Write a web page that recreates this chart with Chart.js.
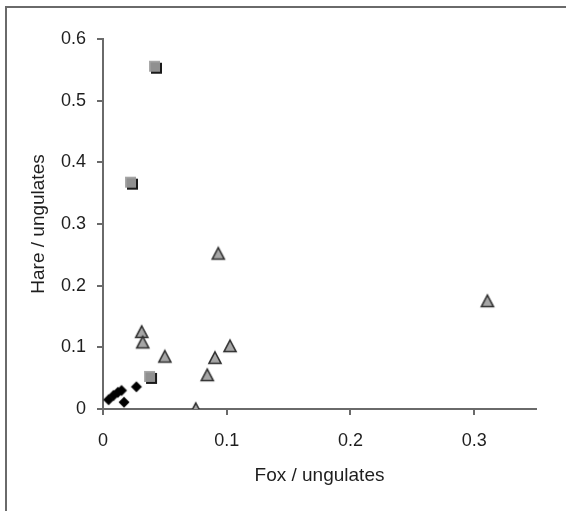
<!DOCTYPE html>
<html>
<head>
<meta charset="utf-8">
<script src="https://cdn.jsdelivr.net/npm/chart.js@4.4.1/dist/chart.umd.min.js"></script>
<style>
  html, body { margin: 0; padding: 0; background: #ffffff; }
  #wrap { position: relative; width: 566px; height: 511px; }
  #frame { position: absolute; left: 5px; top: 6px; width: 600px; height: 600px;
           border-left: 2px solid #6a6a6a; border-top: 2px solid #6a6a6a; box-sizing: border-box; }
  canvas { position: absolute; left: 0; top: 0; }
</style>
</head>
<body>
<div id="wrap">
  <div id="frame"></div>
  <canvas id="c" width="566" height="511"></canvas>
</div>
<script>
// ---- data ----
const squareX = [0.042, 0.0226, 0.038];
const squareY = [0.555, 0.367, 0.052];

const triangleX = [0.0932, 0.3107, 0.0313, 0.0321, 0.050, 0.1027, 0.0905, 0.0843, 0.075];
const triangleY = [0.252, 0.175, 0.125, 0.108, 0.085, 0.102, 0.083, 0.055, 0.0];

const diamondX = [0.0045, 0.0085, 0.012, 0.015, 0.017, 0.027];
const diamondY = [0.015, 0.022, 0.027, 0.030, 0.011, 0.036];

const xTicks = [0, 0.1, 0.2, 0.3];
const yTicks = [0, 0.1, 0.2, 0.3, 0.4, 0.5, 0.6];
const xTitle = 'Fox / ungulates';
const yTitle = 'Hare / ungulates';

function pts(xs, ys) { return xs.map((x, i) => ({ x: x, y: ys[i] })); }

// ---- marker images ----
function squareImg() {
  const c = document.createElement('canvas'); c.width = 18; c.height = 18;
  const g = c.getContext('2d');
  g.fillStyle = '#1a1a1a'; g.fillRect(5, 5, 11, 11);
  g.fillStyle = '#909090'; g.fillRect(3, 3, 11, 11);
  g.fillStyle = '#a8a8a8'; g.fillRect(3, 3, 11, 1.5); g.fillRect(3, 3, 1.5, 11);
  return c;
}
function triangleImg() {
  const c = document.createElement('canvas'); c.width = 18; c.height = 18;
  const g = c.getContext('2d');
  g.beginPath(); g.moveTo(9, 3); g.lineTo(15, 14.5); g.lineTo(3, 14.5); g.closePath();
  g.fillStyle = '#a6a6a6'; g.fill();
  g.lineWidth = 1.6; g.strokeStyle = '#2e2e2e'; g.stroke();
  return c;
}
function diamondImg() {
  const c = document.createElement('canvas'); c.width = 14; c.height = 14;
  const g = c.getContext('2d');
  g.beginPath(); g.moveTo(7, 1.5); g.lineTo(12.5, 7); g.lineTo(7, 12.5); g.lineTo(1.5, 7); g.closePath();
  g.fillStyle = '#000'; g.fill();
  return c;
}

const axisColor = '#6a6a6a';
const textColor = '#1e1e1e';
const fam = '"Liberation Sans", Arial, sans-serif';

new Chart(document.getElementById('c'), {
  type: 'scatter',
  data: {
    datasets: [
      { label: 'triangles', data: pts(triangleX, triangleY), pointStyle: triangleImg(), pointRadius: 9 },
      { label: 'squares', data: pts(squareX, squareY), pointStyle: squareImg(), pointRadius: 9 },
      { label: 'diamonds', data: pts(diamondX, diamondY), pointStyle: diamondImg(), pointRadius: 7 }
    ]
  },
  options: {
    responsive: false,
    animation: false,
    events: [],
    layout: { padding: { left: 0, top: 39, right: 30, bottom: 0 } },
    plugins: { legend: { display: false }, tooltip: { enabled: false } },
    scales: {
      x: {
        type: 'linear', min: 0, max: 0.35,
        afterBuildTicks: s => { s.ticks = xTicks.map(v => ({ value: v })); },
        afterFit: s => { s.height = 102; },
        grid: { display: true, drawOnChartArea: false, drawTicks: true, tickLength: 6, tickColor: axisColor, lineWidth: 2 },
        border: { display: true, color: axisColor, width: 2 },
        ticks: { color: textColor, font: { family: fam, size: 18 }, padding: 15, maxRotation: 0,
                 callback: v => String(v) },
        title: { display: true, text: xTitle, color: textColor, font: { family: fam, size: 19 }, padding: { top: 0, bottom: 24 } }
      },
      y: {
        type: 'linear', min: 0, max: 0.6,
        afterBuildTicks: s => { s.ticks = yTicks.map(v => ({ value: v })); },
        afterFit: s => { s.width = 103; },
        grid: { display: true, drawOnChartArea: false, drawTicks: true, tickLength: 6, tickColor: axisColor, lineWidth: 2 },
        border: { display: true, color: axisColor, width: 2 },
        ticks: { color: textColor, font: { family: fam, size: 18 }, padding: 11,
                 callback: v => String(v) },
        title: { display: true, text: yTitle, color: textColor, font: { family: fam, size: 19 }, padding: { top: 27, bottom: 0 } }
      }
    }
  }
});
</script>
</body>
</html>
